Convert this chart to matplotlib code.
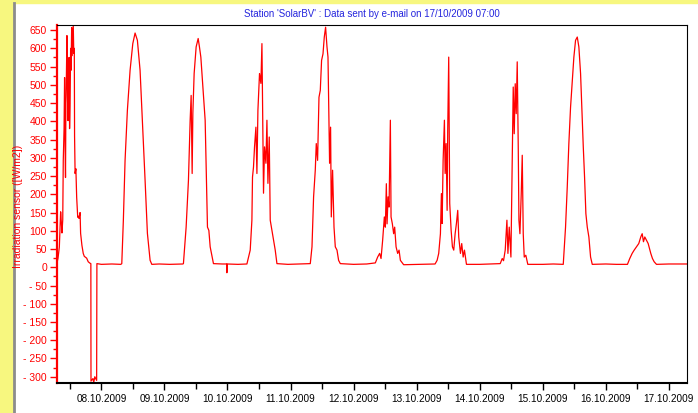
import matplotlib
matplotlib.use('Agg')
import matplotlib.pyplot as plt
import matplotlib.dates as mdates
from matplotlib.ticker import MultipleLocator, FuncFormatter
from matplotlib.patches import Rectangle
from matplotlib.lines import Line2D
import pandas as pd

# time axis: hours counted from 07.10.2009 00:00
start = pd.Timestamp('2009-10-07 00:00')
x_min = pd.Timestamp('2009-10-07 07:00')
x_max = pd.Timestamp('2009-10-17 07:00')
y_min, y_max = -318, 664

title = "Station 'SolarBV' : Data sent by e-mail on 17/10/2009 07:00"
y_label = 'Irradiation sensor ([W/m2])'

hours = [
    # 07.10
    7.1, 7.5, 8.0, 8.5, 8.8, 9.0, 9.3, 9.5, 9.8, 10.0, 10.2, 10.35, 10.5, 10.7, 10.9,
    11.1, 11.3, 11.5, 11.7, 11.9, 12.1, 12.3, 12.45, 12.7, 12.9, 13.1, 13.3, 13.5, 13.7, 13.8,
    14.0, 14.3, 14.6, 15.0, 15.3, 15.5, 15.9, 16.1, 16.6, 17.1, 17.5, 18.4, 19.0, 19.7, 20.0,
    20.05, 20.8, 21.1, 21.5, 22.2, 22.25, 22.3,
    24.0, 28.0, 31.4,
    # 08.10
    31.77, 32.37, 33.02, 33.90, 34.93, 35.96, 36.83, 37.71, 38.73, 39.61, 40.64, 41.52, 42.55, 43.20,
    46.0, 50.0, 55.0,
    # 09.10
    55.23, 56.26, 57.14, 57.79, 58.17, 58.55, 58.82, 59.31, 60.07, 60.84, 61.33, 61.86, 62.63,
    63.50, 64.38, 64.91, 65.41, 66.66,
    70.0, 71.7, 71.77, 71.85, 76.0, 79.39,
    # 10.10
    80.65, 81.29, 81.52, 81.90, 82.29, 82.82, 83.20, 83.58, 84.19, 84.72, 85.11, 85.33, 85.71,
    86.10, 86.63, 87.01, 87.39, 87.89, 88.27, 88.92, 89.52, 90.17, 90.82,
    95.0, 100.0, 103.51,
    # 11.10
    104.16, 104.77, 105.41, 105.79, 106.29, 106.82, 107.32, 107.81, 108.35, 108.84, 109.34, 109.87,
    110.25, 110.63, 110.86, 111.24, 111.51, 112.00, 112.54, 113.03, 113.68, 114.29, 114.94,
    120.0, 125.0, 128.27,
    # 12.10
    129.15, 129.91, 130.44, 131.05, 131.70, 132.08, 132.46, 132.73, 133.11, 133.49, 133.72,
    133.99, 134.25, 134.75, 135.24, 135.63, 136.16, 136.77, 137.30, 137.80, 139.05,
    145.0, 151.0,
    # 13.10
    151.78, 152.39, 153.04, 153.42, 153.69, 154.07, 154.56, 154.83, 155.21, 155.59, 155.82, 156.20,
    156.58, 157.12, 157.61, 158.11, 158.64, 159.13, 159.63, 160.01, 160.66, 161.15, 161.69,
    162.19, 162.95,
    168.0, 172.0, 175.8,
    # 14.10
    176.56, 177.06, 177.70, 178.35, 178.73, 179.23, 179.87, 180.37, 180.75, 181.13, 181.51,
    181.89, 182.27, 182.66, 182.92, 183.30, 183.80, 184.18, 184.56, 184.94, 185.54, 186.30,
    192.0, 196.0, 199.79,
    # 15.10
    200.66, 201.31, 201.92, 202.57, 203.22, 203.83, 204.47, 205.12, 205.73, 206.38, 207.02,
    207.41, 207.90, 208.40, 208.93, 209.54, 210.19, 210.83,
    216.0, 220.0, 224.22,
    # 16.10
    225.10, 226.01, 226.78, 227.66, 228.53, 229.29, 229.83, 230.32, 230.82, 231.46, 232.11,
    233.10, 233.74, 234.39, 235.27,
    240.0, 247.0,
]

irradiance = [
    # 07.10
    12, 25, 55, 152, 120, 94, 130, 293, 380, 520, 330, 246, 450, 530, 635,
    470, 402, 560, 575, 380, 449, 600, 540, 657, 580, 622, 664, 586, 600, 360,
    257, 270, 192, 137, 140, 134, 150, 93, 60, 38, 30, 25, 15, 11, 10,
    -312, -305, -316, -300, -310, -80, 10,
    8, 9, 8,
    # 08.10
    10, 129, 293, 430, 540, 613, 642, 622, 540, 403, 238, 93, 19, 8,
    9, 8, 9,
    # 09.10
    10, 110, 238, 403, 471, 257, 422, 531, 604, 627, 604, 576, 494,
    403, 110, 101, 56, 10,
    9, 9, -15, 9, 8, 9,
    # 10.10
    47, 129, 247, 275, 330, 384, 257, 430, 531, 504, 613, 457, 203,
    330, 285, 403, 230, 357, 129, 101, 74, 47, 10,
    8, 9, 10,
    # 11.10
    56, 193, 266, 339, 293, 466, 485, 567, 585, 631, 658, 604,
    576, 384, 285, 384, 138, 266, 110, 56, 47, 19, 10,
    8, 9, 12,
    # 12.10
    28, 38, 24, 74, 138, 110, 229, 119, 193, 165, 275,
    403, 138, 119, 92, 110, 56, 38, 47, 19, 7,
    8, 9,
    # 13.10
    19, 38, 92, 202, 120, 293, 403, 257, 339, 156, 375, 576,
    175, 101, 56, 47, 92, 120, 156, 83, 38, 65, 28,
    47, 8,
    8, 9, 10,
    # 14.10
    24, 18, 47, 129, 38, 110, 28, 293, 494, 366, 503,
    421, 563, 330, 129, 92, 202, 307, 92, 28, 33, 8,
    8, 9, 8,
    # 15.10
    110, 220, 339, 439, 512, 576, 622, 631, 604, 531, 403,
    330, 247, 147, 110, 83, 28, 8,
    9, 8, 8,
    # 16.10
    24, 38, 47, 56, 65, 83, 92, 70, 83, 74, 65,
    38, 24, 15, 8,
    9, 9,
]

assert len(hours) == len(irradiance)
times = start + pd.to_timedelta(hours, unit='h')

plt.rcParams['font.family'] = ['Liberation Sans', 'DejaVu Sans']

W, H = 698, 413
fig = plt.figure(figsize=(W / 100, H / 100), dpi=100, facecolor='white')

# yellow frame on the left and top, grey separator
yellow = '#F7F77F'
fig.patches.append(Rectangle((0, 0), 13 / W, 1, transform=fig.transFigure,
                             color=yellow, zorder=0))
fig.patches.append(Rectangle((0, 1 - 3 / H), 1, 3 / H, transform=fig.transFigure,
                             color=yellow, zorder=0))
fig.lines.append(Line2D([14 / W, 14 / W], [0, 1 - 3 / H], transform=fig.transFigure,
                        color='#8C8C8C', lw=2))

ax = fig.add_axes([56.7 / W, 1 - 383.3 / H, (687.3 - 56.7) / W, (383.3 - 25) / H])
ax.plot(times, irradiance, color='red', lw=0.9)

ax.set_xlim(x_min, x_max)
ax.set_ylim(y_min, y_max)

ax.xaxis.set_major_locator(mdates.DayLocator())
ax.xaxis.set_minor_locator(mdates.HourLocator(byhour=[12]))
ax.xaxis.set_major_formatter(mdates.DateFormatter('%d.%m.%Y'))

ax.yaxis.set_major_locator(MultipleLocator(50))
ax.yaxis.set_minor_locator(MultipleLocator(25))
ax.yaxis.set_major_formatter(FuncFormatter(
    lambda v, pos: f'- {abs(int(v))}' if v < 0 else f'{int(v)}'))

ax.tick_params(axis='x', which='major', length=5, width=1, labelsize=7.2, pad=3)
ax.tick_params(axis='x', which='minor', length=4, width=1)
ax.tick_params(axis='y', which='major', length=5, width=1, colors='red',
               labelsize=7.5, pad=2)
ax.tick_params(axis='y', which='minor', length=3, width=1, colors='red')

for side in ['top', 'right']:
    ax.spines[side].set_linewidth(0.8)
ax.spines['bottom'].set_linewidth(1.5)
ax.spines['left'].set_color('red')
ax.spines['left'].set_linewidth(1.6)

fig.text(18 / W, 1 - 206 / H, y_label, rotation=90, color='red',
         ha='center', va='center', fontsize=7.5)
fig.text(372 / W, 1 - 14 / H, title, color='#2424DD',
         ha='center', va='center', fontsize=7)

fig.savefig('out.png', dpi=100)
